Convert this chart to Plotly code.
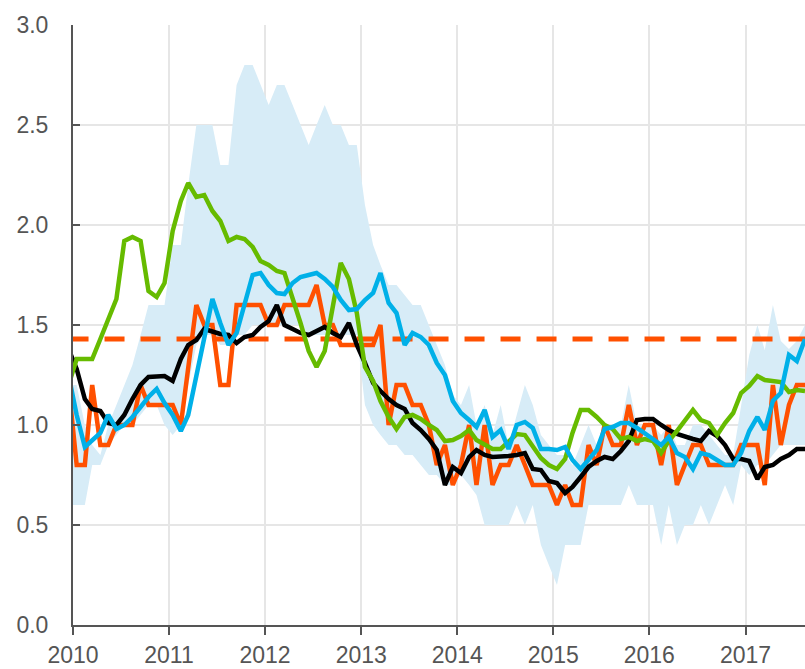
import pandas as pd
from plotly import graph_objs as go

# monthly observations, Dec 2009 .. Aug 2017 (plotted mid-month)
months = pd.date_range("2009-12-01", periods=93, freq="MS") + pd.Timedelta(days=14)

band_low = [0.6,
    0.6, 0.6, 0.8, 0.8, 0.9, 0.95, 1.0, 1.0, 1.05, 1.1, 1.1, 1.0,
    0.95, 1.0, 1.2, 1.4, 1.45, 1.45, 1.4, 1.4, 1.45, 1.45, 1.5, 1.5,
    1.5, 1.5, 1.5, 1.5, 1.5, 1.45, 1.45, 1.45, 1.45, 1.45, 1.45, 1.45,
    1.1, 1.0, 0.95, 0.9, 0.9, 0.85, 0.85, 0.8, 0.75, 0.75, 0.7, 0.7,
    0.75, 0.7, 0.65, 0.5, 0.5, 0.5, 0.5, 0.6, 0.5, 0.6, 0.4, 0.3,
    0.2, 0.4, 0.4, 0.4, 0.6, 0.6, 0.6, 0.6, 0.6, 0.7, 0.6, 0.6,
    0.6, 0.4, 0.6, 0.4, 0.5, 0.5, 0.6, 0.5, 0.6, 0.7, 0.6, 0.8,
    0.75, 0.8, 0.8, 0.85, 0.9, 0.9, 0.9, 0.9]

band_high = [1.2,
    1.2, 1.0, 0.9, 0.85, 1.0, 1.1, 1.2, 1.3, 1.45, 1.6, 1.6, 1.6,
    1.9, 1.9, 2.2, 2.5, 2.5, 2.5, 2.3, 2.3, 2.7, 2.8, 2.8, 2.7,
    2.6, 2.7, 2.7, 2.6, 2.5, 2.4, 2.5, 2.6, 2.5, 2.5, 2.4, 2.4,
    2.1, 1.9, 1.8, 1.7, 1.7, 1.65, 1.6, 1.6, 1.5, 1.4, 1.3, 1.15,
    1.1, 1.2, 1.0, 1.1, 0.95, 1.1, 0.9, 1.05, 1.2, 1.1, 0.95, 0.9,
    0.85, 0.85, 0.8, 0.9, 1.0, 0.9, 0.95, 1.0, 1.0, 1.2, 1.0, 1.0,
    1.0, 0.95, 1.0, 0.9, 0.9, 1.0, 1.0, 0.95, 0.9, 0.85, 0.85, 1.1,
    1.35, 1.5, 1.375, 1.6, 1.42, 1.38, 1.42, 1.5]

orange = [1.2,
    0.8, 0.8, 1.2, 0.9, 0.9, 1.0, 1.0, 1.0, 1.2, 1.1, 1.1, 1.1,
    1.1, 1.0, 1.3, 1.6, 1.5, 1.5, 1.2, 1.2, 1.6, 1.6, 1.6, 1.6,
    1.5, 1.5, 1.6, 1.6, 1.6, 1.6, 1.7, 1.5, 1.5, 1.4, 1.4, 1.4,
    1.4, 1.4, 1.5, 1.0, 1.2, 1.2, 1.1, 1.1, 1.0, 0.8, 0.9, 0.7,
    0.8, 1.0, 0.7, 1.0, 0.7, 0.8, 0.8, 0.9, 0.8, 0.7, 0.7, 0.7,
    0.6, 0.7, 0.6, 0.6, 0.9, 0.8, 1.0, 0.9, 0.9, 1.1, 0.9, 1.0,
    1.0, 0.8, 1.0, 0.7, 0.8, 0.9, 0.9, 0.8, 0.8, 0.8, 0.8, 0.9,
    0.9, 0.9, 0.7, 1.2, 0.9, 1.1, 1.2, 1.2]

black = [1.38,
    1.28, 1.13, 1.08, 1.07, 1.01, 1.0, 1.05, 1.13, 1.2, 1.24, 1.245, 1.245,
    1.22, 1.33, 1.40, 1.425, 1.48, 1.465, 1.455, 1.45, 1.41, 1.44, 1.45, 1.49,
    1.52, 1.60, 1.50, 1.48, 1.46, 1.45, 1.47, 1.49, 1.46, 1.44, 1.51, 1.40,
    1.31, 1.21, 1.17, 1.13, 1.10, 1.08, 1.01, 0.975, 0.93, 0.875, 0.70, 0.79,
    0.76, 0.84, 0.875, 0.85, 0.84, 0.84, 0.845, 0.85, 0.86, 0.78, 0.775, 0.72,
    0.71, 0.66, 0.69, 0.74, 0.79, 0.82, 0.84, 0.83, 0.87, 0.92, 1.025, 1.03,
    1.03, 1.0, 0.975, 0.955, 0.94, 0.93, 0.92, 0.97, 0.945, 0.90, 0.83, 0.83,
    0.82, 0.73, 0.79, 0.80, 0.83, 0.85, 0.88, 0.88]

green = [1.2,
    1.33, 1.33, 1.33, 1.43, 1.53, 1.63, 1.92, 1.94, 1.92, 1.67, 1.64, 1.71,
    1.97, 2.12, 2.21, 2.14, 2.15, 2.07, 2.02, 1.92, 1.94, 1.93, 1.89, 1.82,
    1.80, 1.77, 1.76, 1.64, 1.51, 1.37, 1.29, 1.37, 1.6, 1.81, 1.73, 1.56,
    1.29, 1.22, 1.12, 1.04, 0.98, 1.04, 1.05, 1.03, 1.0, 0.975, 0.92, 0.925,
    0.945, 0.975, 0.925, 0.90, 0.88, 0.88, 0.915, 0.955, 0.95, 0.89, 0.835, 0.80,
    0.78, 0.83, 0.96, 1.075, 1.075, 1.04, 1.0, 0.98, 0.93, 0.94, 0.92, 0.93,
    0.92, 0.86, 0.92, 0.97, 1.02, 1.075, 1.025, 1.01, 0.95, 1.01, 1.06, 1.16,
    1.195, 1.245, 1.225, 1.22, 1.215, 1.165, 1.175, 1.17]

cyan = [1.25,
    1.05, 0.89, 0.92, 0.96, 1.05, 0.98, 1.0, 1.04, 1.09, 1.14, 1.18, 1.11,
    1.05, 0.97, 1.05, 1.24, 1.45, 1.63, 1.51, 1.40, 1.46, 1.60, 1.75, 1.76,
    1.70, 1.66, 1.655, 1.71, 1.74, 1.75, 1.76, 1.73, 1.69, 1.625, 1.575, 1.58,
    1.625, 1.66, 1.76, 1.61, 1.56, 1.40, 1.46, 1.44, 1.40, 1.31, 1.25, 1.12,
    1.06, 1.025, 0.99, 1.075, 0.94, 0.975, 0.88, 1.0, 1.015, 0.985, 0.88, 0.88,
    0.875, 0.89, 0.825, 0.78, 0.83, 0.875, 0.98, 0.99, 1.01, 1.01, 0.985, 0.96,
    0.93, 0.90, 0.94, 0.86, 0.84, 0.78, 0.86, 0.85, 0.825, 0.80, 0.80, 0.86,
    0.97, 1.04, 0.975, 1.12, 1.16, 1.35, 1.32, 1.43]

target = 1.43

year_ticks = ["%d-01-01" % y for y in range(2010, 2018)]
year_labels = [str(y) for y in range(2010, 2018)]
y_ticks = [0, 0.5, 1.0, 1.5, 2.0, 2.5, 3.0]

fig = go.Figure()

# shaded range
fig.add_trace(go.Scatter(x=months, y=band_low, mode='lines',
                         line=dict(width=0, color='rgba(0,0,0,0)'), hoverinfo='skip'))
fig.add_trace(go.Scatter(x=months, y=band_high, mode='lines', fill='tonexty',
                         fillcolor='#D7ECF7', line=dict(width=0, color='rgba(0,0,0,0)'),
                         hoverinfo='skip'))

# dashed reference level
fig.add_trace(go.Scatter(x=[months[0], months[-1] + pd.Timedelta(days=30)], y=[target, target],
                         mode='lines', line=dict(color='#FF5000', width=5, dash='20px,16px')))

fig.add_trace(go.Scatter(x=months, y=orange, mode='lines', line=dict(color='#FF5000', width=4.5)))
fig.add_trace(go.Scatter(x=months, y=black, mode='lines', line=dict(color='#000000', width=4.5)))
fig.add_trace(go.Scatter(x=months, y=green, mode='lines', line=dict(color='#66BB00', width=4.5)))
fig.add_trace(go.Scatter(x=months, y=cyan, mode='lines', line=dict(color='#00B0E8', width=4.5)))

tick_font = dict(family='Liberation Sans, Arial', size=23, color='#555555')

fig.update_layout(
    width=805, height=669,
    margin=dict(l=73, r=0, t=25, b=44),
    plot_bgcolor='white', paper_bgcolor='white',
    showlegend=False,
    xaxis=dict(type='date', range=['2010-01-01', '2017-08-15'],
               tickvals=year_ticks, ticktext=year_labels,
               showgrid=True, gridcolor='#E6E6E6', gridwidth=2,
               showline=True, linecolor='#555555', linewidth=2,
               ticks='outside', ticklen=8, tickwidth=2, tickcolor='#555555',
               tickfont=tick_font, zeroline=False, automargin=False),
    yaxis=dict(range=[0, 3], tickvals=y_ticks, tickformat='.1f',
               showgrid=True, gridcolor='#E6E6E6', gridwidth=2,
               showline=True, linecolor='#555555', linewidth=2,
               ticks='inside', ticklen=7, tickwidth=2, tickcolor='#555555',
               tickfont=tick_font, ticklabelstandoff=18, zeroline=False,
               automargin=False),
)

# page body has a default 8px margin; drop it so the figure fills the window
fig.write_html("out.html", config={'displayModeBar': False},
               post_script="document.body.style.margin='0';")
